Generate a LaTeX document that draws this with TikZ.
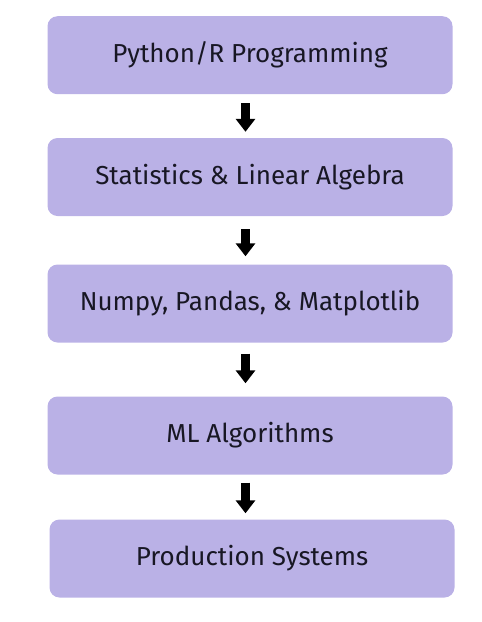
\documentclass[tikz,border=0pt]{standalone}
\usepackage{fontspec}
\setmainfont{Fira Sans}
\usepackage{xcolor}
\usetikzlibrary{positioning,arrows.meta}

\definecolor{boxfill}{RGB}{186,177,230}
\definecolor{boxtext}{RGB}{24,23,36}

\tikzset{
    stagebox/.style={rectangle, rounded corners=10pt, fill=boxfill, draw=none,
        minimum width=405pt, minimum height=78pt, text=boxtext,
        font=\fontsize{26}{30}\selectfont},
    flowarrow/.style={line width=8.5pt, black,
        -{Triangle[width=19pt,length=13pt]}}
}

\begin{document}
\begin{tikzpicture}[x=1pt, y=-1pt]
    \useasboundingbox (0,0) rectangle (482,622);
    \node[stagebox] (python) at (250,55.2) {Python/R Programming};
    \node[stagebox] (stats) at (250,177) {Statistics \& Linear Algebra};
    \node[stagebox] (libs) at (250,303.5) {Numpy, Pandas, \& Matplotlib};
    \node[stagebox] (ml) at (250,435.5) {ML Algorithms};
    \node[stagebox] (prod) at (252,558.5) {Production Systems};
    % short arrows in the gaps
    \foreach \a/\b/\s/\e in {python/stats/9/6, stats/libs/13/8,
                             libs/ml/11/13, ml/prod/8/6}
        \draw[flowarrow] ([xshift=-4.5pt, yshift=-\s pt]\a.south)
                      -- ([xshift=-4.5pt, yshift=\e pt]\a.south |- \b.north);
\end{tikzpicture}
\end{document}
